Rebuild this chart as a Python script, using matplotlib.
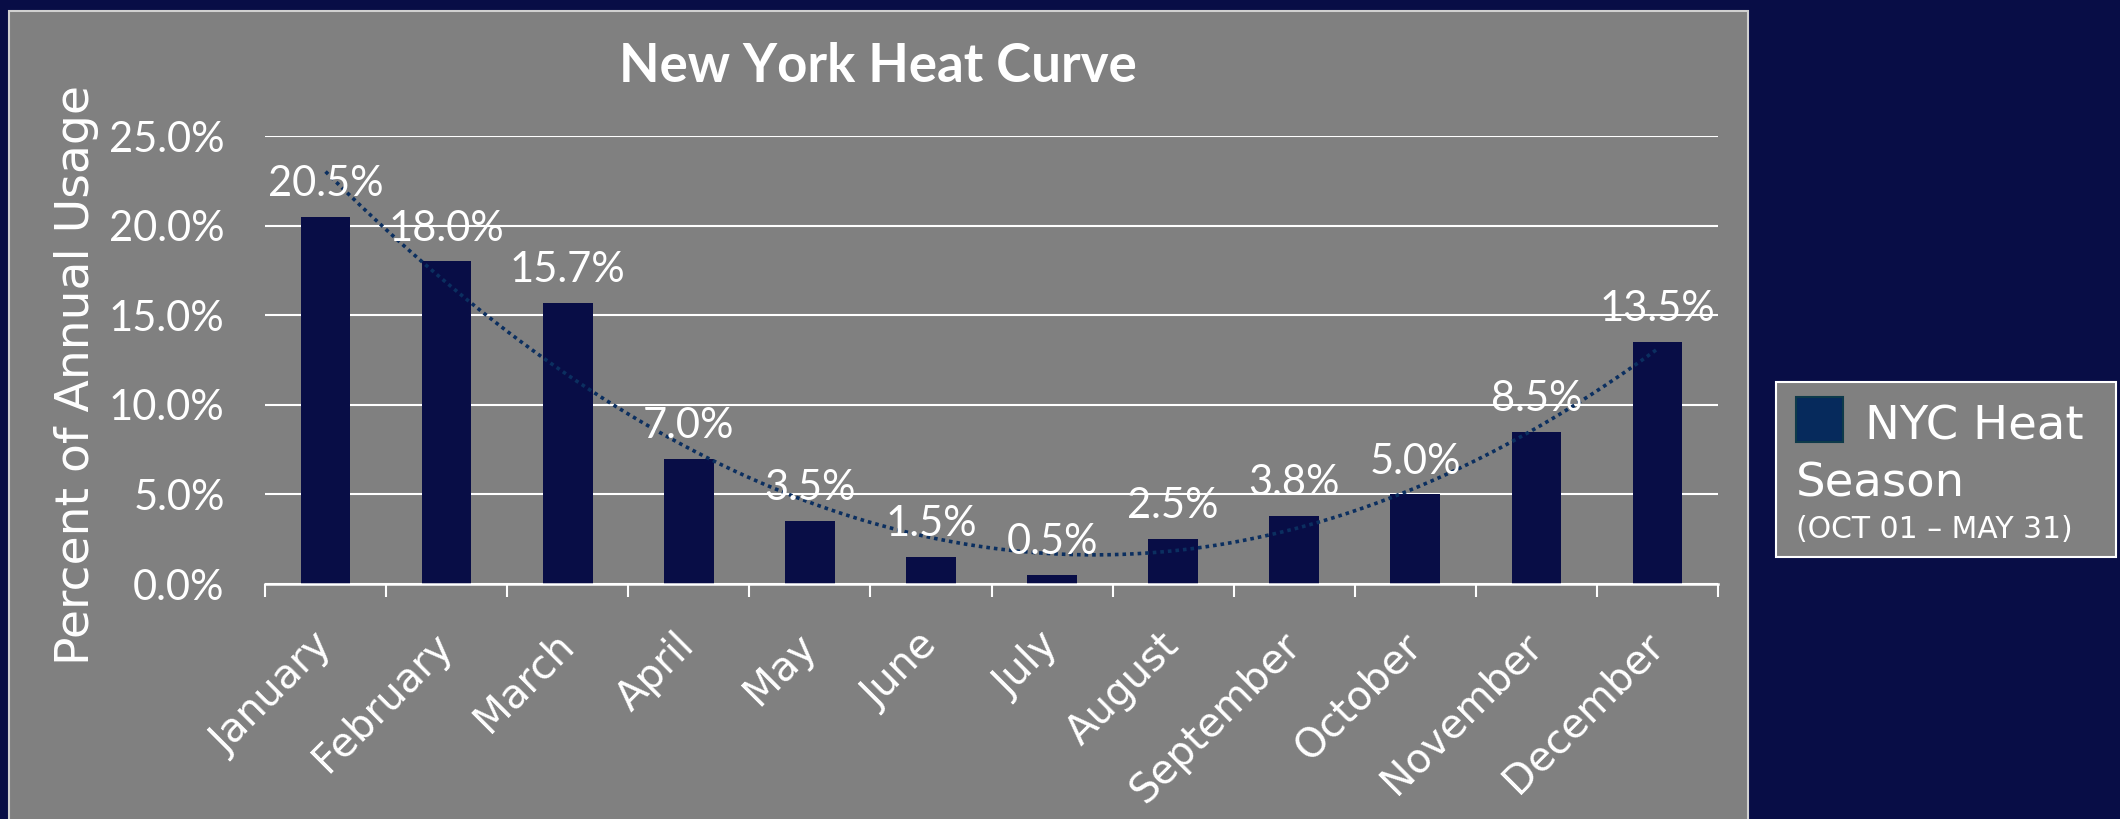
import numpy as np
import matplotlib
matplotlib.use("Agg")
import matplotlib.pyplot as plt
from matplotlib.patches import Rectangle

months = ["January", "February", "March", "April", "May", "June", "July",
          "August", "September", "October", "November", "December"]
usage = [20.5, 18.0, 15.7, 7.0, 3.5, 1.5, 0.5, 2.5, 3.8, 5.0, 8.5, 13.5]
yticks = [0, 5, 10, 15, 20, 25]
title = "New York Heat Curve"
ylabel = "Percent of Annual Usage"
legend_line1 = "NYC Heat"
legend_line2 = "Season"
legend_line3 = "(OCT 01 \u2013 MAY 31)"

NAVY = "#080d46"
GREY = "#808080"
TREND = "#0b2f60"
NUMFONT = ["Lato", "DejaVu Sans"]
WORDFONT = ["DejaVu Sans"]
plt.rcParams["font.family"] = NUMFONT

W, H = 2120, 819
fig = plt.figure(figsize=(W / 100, H / 100), dpi=100, facecolor=NAVY)

# grey panel
fig.patches.append(Rectangle((9 / W, -0.02), 1739 / W, (H - 11) / H + 0.02,
                             transform=fig.transFigure, facecolor=GREY,
                             edgecolor="#d0d0d0", linewidth=1.5, zorder=-5))

ax = fig.add_axes([265 / W, 1 - 584 / H, (1718 - 265) / W, (584 - 136) / H])
ax.set_facecolor("none")

x = np.arange(len(months))
ax.bar(x, usage, width=0.41, color=NAVY, zorder=3)
ax.set_xlim(-0.5, len(months) - 0.5)
ax.set_ylim(0, 25)

# polynomial (order 2) trendline from the data
coef = np.polyfit(x, usage, 2)
xs = np.linspace(0, len(months) - 1, 300)
ax.plot(xs, np.polyval(coef, xs), color=TREND, lw=2.6,
        linestyle=(0, (1, 1.1)), dash_capstyle="butt", zorder=4)

# data labels
for xi, v in zip(x, usage):
    ax.annotate(f"{v:.1f}%", (xi, v), xytext=(0, 15), textcoords="offset points",
                ha="center", va="baseline", color="white", fontsize=30,
                zorder=5, annotation_clip=False)

# grid & axes
ax.set_yticks(yticks)
ax.set_yticklabels([f"{t:.1f}%" for t in yticks])
ax.yaxis.grid(True, color="white", lw=1.5, zorder=1)
ax.set_axisbelow(True)
for s in ["left", "right", "top"]:
    ax.spines[s].set_visible(False)
ax.spines["bottom"].set_color("white")
ax.spines["bottom"].set_linewidth(1.8)
ax.spines["bottom"].set_zorder(6)
ax.tick_params(axis="y", length=0, pad=29, labelsize=30, labelcolor="white")

ax.set_xticks(x)
ax.set_xticklabels(months, rotation=45, ha="right", va="center",
                   rotation_mode="anchor", family=WORDFONT)
ax.tick_params(axis="x", which="major", length=0, pad=40, labelsize=29,
               labelcolor="white")
ax.set_xticks(np.arange(-0.5, len(months), 1), minor=True)
ax.tick_params(axis="x", which="minor", length=9, width=1.5, color="white",
               direction="out")

ax.set_ylabel(ylabel, fontsize=34, color="white", va="center", family=WORDFONT)
ax.yaxis.set_label_coords((77 - 265) / (1718 - 265), (584 - 375) / (584 - 136))

fig.text(878 / W, 1 - 82 / H, title, ha="center", va="baseline",
         fontsize=38, fontweight="bold", color="white")

# legend
fig.patches.append(Rectangle((1776 / W, 1 - 557 / H), 340 / W, 175 / H,
                             transform=fig.transFigure, facecolor=GREY,
                             edgecolor="white", linewidth=1.5, zorder=2))
fig.patches.append(Rectangle((1796 / W, 1 - 442 / H), 47 / W, 45 / H,
                             transform=fig.transFigure, facecolor="#062a5c",
                             edgecolor="#0d3a4a", linewidth=1.5, zorder=3))
fig.text(1865 / W, 1 - 439 / H, legend_line1, ha="left", va="baseline",
         fontsize=33.5, color="white", zorder=4, family=WORDFONT)
fig.text(1796 / W, 1 - 497 / H, legend_line2, ha="left", va="baseline",
         fontsize=33.5, color="white", zorder=4, family=WORDFONT)
fig.text(1796 / W, 1 - 538 / H, legend_line3, ha="left", va="baseline",
         fontsize=21.5, color="white", zorder=4, family=WORDFONT)

fig.savefig("out.png", dpi=100, facecolor=NAVY)
